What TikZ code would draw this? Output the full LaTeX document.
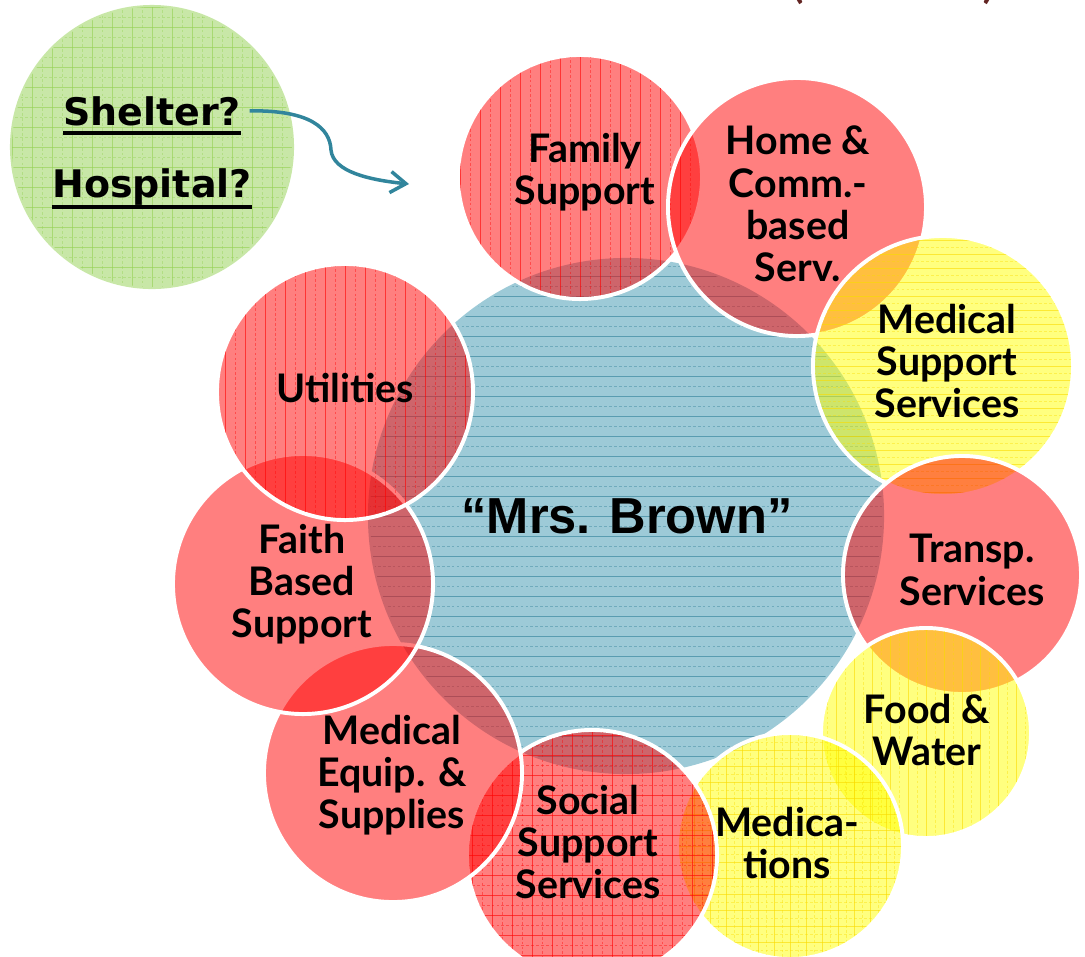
\documentclass[tikz,border=0pt]{standalone}
\usepackage{fontspec}
\usetikzlibrary{arrows.meta, calc}
\newfontfamily\gillfont{Lato}
\newfontfamily\comicfont{DejaVu Sans}
\newfontfamily\arialfont{Liberation Sans}
\definecolor{brownblue}{RGB}{60,150,175}
\definecolor{brownline}{RGB}{45,125,150}
\definecolor{shelgreen}{RGB}{146,208,80}
\definecolor{arrowteal}{RGB}{49,133,156}
\definecolor{titlebrown}{RGB}{99,37,35}
\definecolor{bubred}{RGB}{255,0,0}
\definecolor{bubyellow}{RGB}{255,255,0}
\definecolor{yellowline}{RGB}{250,220,0}
\tikzset{
    my-bubble/.style={
        circle, inner sep=0pt, draw=white, line width=2.8pt, fill opacity=.5, minimum size=#1
    },
    my-texture/.style={draw=#1, line width=.6pt, draw opacity=.6},
    my-dashed/.style={dash pattern=on 2pt off 1.5pt, draw opacity=.4},
    my-label/.style={
        align=center, font=\gillfont\bfseries\fontsize{28}{30}\selectfont
    },
    my-question/.style={
        anchor=base, inner sep=0pt, font=\comicfont\bfseries\fontsize{27}{30}\selectfont
    },
    my-title/.style={
        anchor=base, text=titlebrown, font=\gillfont\fontsize{40}{40}\selectfont
    },
    my-underline/.style={draw=black, line width=2.8pt},
    my-arrow/.style={draw=arrowteal, line width=2.5pt, -{Straight Barb[length=11pt, width=15pt]}},
}
% ruled lines inside a bubble, solid and dashed in turn: node, radius, spacing, colour
\newcommand{\myhlines}[4]{%
    \begin{scope}[shift={(#1.center)}]
        \clip (0,0) circle[radius=#2-2];
        \foreach \i in {-13,...,13} {
            \draw[my-texture=#4] (-#2,2*\i*#3) -- (#2,2*\i*#3);
            \draw[my-texture=#4, my-dashed] (-#2,2*\i*#3+#3) -- (#2,2*\i*#3+#3);
        }
    \end{scope}}
\newcommand{\myvlines}[4]{%
    \begin{scope}[shift={(#1.center)}]
        \clip (0,0) circle[radius=#2-2];
        \foreach \i in {-13,...,13} {
            \draw[my-texture=#4] (2*\i*#3,-#2) -- (2*\i*#3,#2);
            \draw[my-texture=#4, my-dashed] (2*\i*#3+#3,-#2) -- (2*\i*#3+#3,#2);
        }
    \end{scope}}
\begin{document}
\begin{tikzpicture}[x=0.025cm, y=-0.025cm]

        \useasboundingbox (0,0) rectangle (1085,956);

        % TITLE, CUT OFF BY THE PAGE
        \node[my-title] (TITLEL) at (797,-4) {(};
        \node[my-title] (TITLER) at (990,-4) {)};

        % MRS. BROWN
        \node[my-bubble=12.9cm, draw=none, fill=brownblue] (BROWN) at (626,516) {};
        \myhlines{BROWN}{258}{10}{brownline}

        % SUPPORTS AROUND HER, IN DRAWING ORDER
        \node[my-bubble=6.1cm, fill=bubred] (FAMILY) at (580,177) {};
        \myvlines{FAMILY}{122}{10}{bubred}
        \node[my-bubble=6.45cm, fill=bubred] (HOME) at (797,207) {};
        \node[my-bubble=6.5cm, fill=bubyellow] (MEDSUP) at (943,366) {};
        \myhlines{MEDSUP}{130}{7}{yellowline}
        \node[my-bubble=5.95cm, fill=bubred] (TRANSP) at (962,575) {};
        \node[my-bubble=5.25cm, fill=bubyellow] (FOOD) at (926,733) {};
        \myvlines{FOOD}{105}{9}{yellowline}
        \node[my-bubble=5.65cm, fill=bubyellow] (MEDS) at (790,846) {};
        \myhlines{MEDS}{113}{8}{yellowline}
        \myvlines{MEDS}{113}{8}{yellowline}
        \node[my-bubble=6.25cm, fill=bubred] (SOCIAL) at (592,855) {};
        \myhlines{SOCIAL}{125}{10}{bubred}
        \myvlines{SOCIAL}{125}{10}{bubred}
        \node[my-bubble=6.45cm, fill=bubred] (EQUIP) at (393,773) {};
        \node[my-bubble=6.5cm, fill=bubred] (FAITH) at (303,584) {};
        \node[my-bubble=6.4cm, fill=bubred] (UTIL) at (345,392) {};
        \myvlines{UTIL}{128}{10}{bubred}

        % LABELS
        \node[font=\arialfont\bfseries\fontsize{36}{40}\selectfont] (BROWNTXT) at ($(BROWN) + (1,0)$) {“Mrs. Brown”};
        \node[my-label] (FAMILYTXT) at ($(FAMILY) + (5,-5)$)   {Family\\Support};
        \node[my-label] (HOMETXT)   at ($(HOME) + (1,-3)$)     {Home \&\\Comm.-\\based\\Serv.};
        \node[my-label] (MEDSUPTXT) at ($(MEDSUP) + (4,-5)$)   {Medical\\Support\\Services};
        \node[my-label] (TRANSPTXT) at ($(TRANSP) + (10,-5)$)  {Transp.\\Services};
        \node[my-label] (FOODTXT)   at ($(FOOD) + (1,-3)$)     {Food \&\\Water};
        \node[my-label] (MEDSTXT)   at ($(MEDS) + (-3,-3)$)    {Medica-\\tions};
        \node[my-label] (SOCIALTXT) at ($(SOCIAL) + (-4,-13)$) {Social\\Support\\Services};
        \node[my-label] (EQUIPTXT)  at ($(EQUIP) + (-1,2)$)    {Medical\\Equip. \&\\Supplies};
        \node[my-label] (FAITHTXT)  at ($(FAITH) + (-1,0)$)    {Faith\\Based\\Support};
        \node[my-label] (UTILTXT)   at ($(UTIL) + (0,-4)$)     {Utilities};

        % SHELTER OR HOSPITAL
        \node[my-bubble=7.1cm, draw=none, fill=shelgreen] (GREEN) at (152,147) {};
        \myhlines{GREEN}{142}{10}{shelgreen}
        \myvlines{GREEN}{142}{10}{shelgreen}
        \node[my-question] (SHELTER)  at (152,125) {Shelter?};
        \node[my-question] (HOSPITAL) at (152,197) {Hospital?};
        \draw[my-underline] ([yshift=-5.7pt]SHELTER.base west)  -- ([yshift=-5.7pt]SHELTER.base east);
        \draw[my-underline] ([yshift=-7.1pt]HOSPITAL.base west) -- ([yshift=-7.1pt]HOSPITAL.base east);

        % ARROW TO THE SUPPORTS
        \coordinate (ARROWEND) at (409,184);
        \draw[my-arrow] ([xshift=6pt]SHELTER.east) .. controls (310,110) and (330,128) .. (331,150)
                        .. controls (333,172) and (370,180) .. (ARROWEND);

\end{tikzpicture}
\end{document}
